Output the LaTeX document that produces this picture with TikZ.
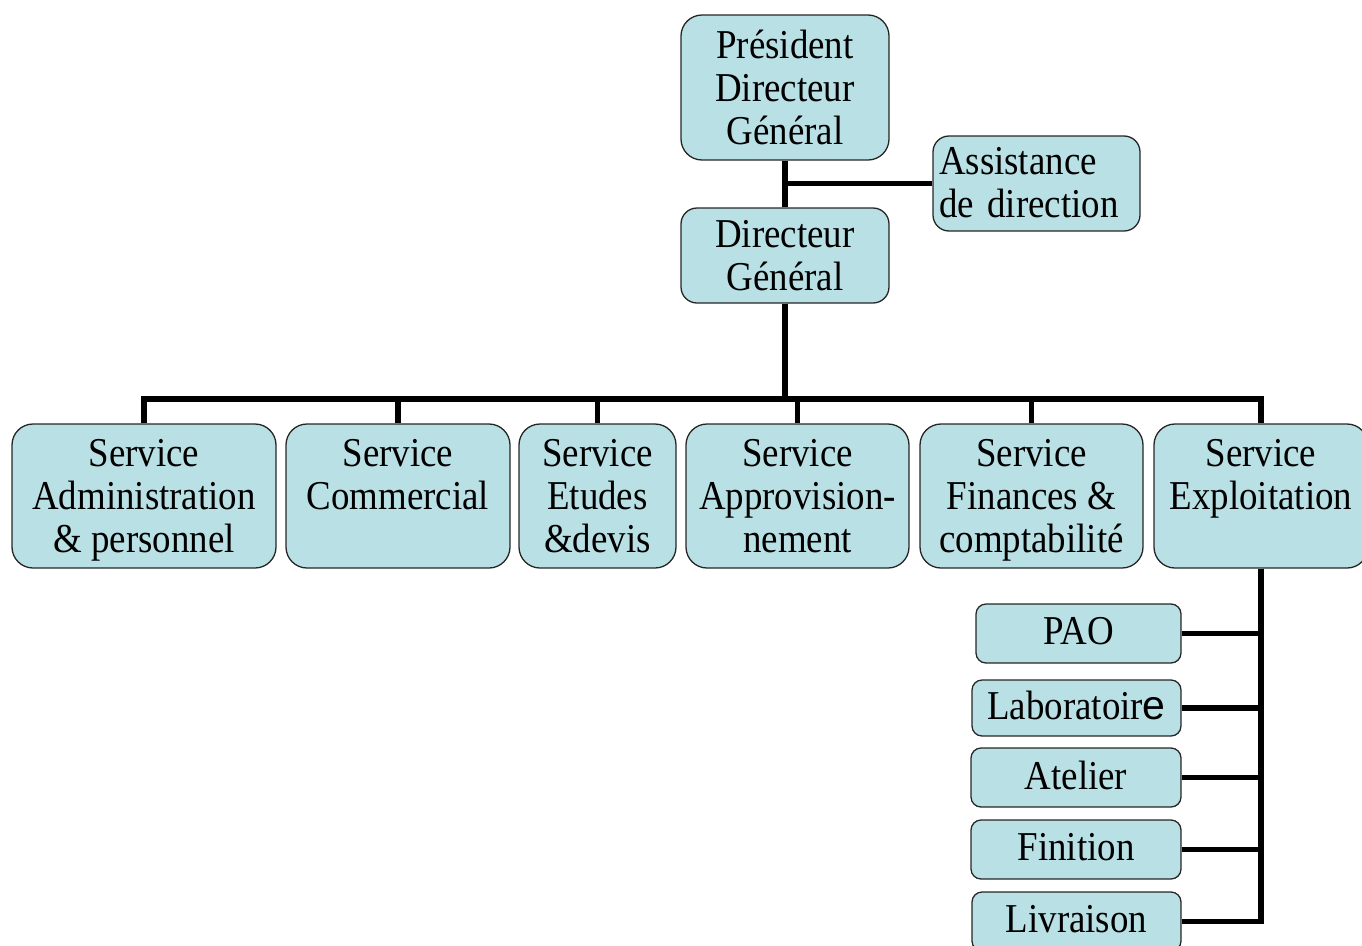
\documentclass[tikz,border=0pt]{standalone}
\usepackage{fontspec}
\setmainfont{Liberation Serif}[FakeStretch=0.9]
\newfontfamily\helv{Liberation Sans}

\definecolor{boxfill}{RGB}{185,224,228}

\begin{document}
\begin{tikzpicture}[x=1pt,y=-1pt,
  box/.style={draw=black!85,line width=1.3pt,fill=boxfill,rounded corners=16pt,
    align=center,inner sep=0pt,font=\fontsize{41}{43}\selectfont,text depth=0pt},
  service/.style={box,rounded corners=21pt,minimum height=144},
  unit/.style={box,rounded corners=10pt,minimum height=59,text depth=5pt},
  link/.style={line width=5.5pt}]
  \useasboundingbox (0,0) rectangle (1362,945);

  \coordinate (bus) at (0,399);

  % direction
  \node[box,rounded corners=21pt,minimum width=208,minimum height=145] (pdg) at (785,87.5) {Président\\Directeur\\Général};
  \node[box,minimum width=208,minimum height=95] (dg) at (785,255.5) {Directeur\\Général};
  \node[box,text depth={},text height=34pt,align=left,text width=195,minimum width=207,minimum height=95] (ast) at (1036.5,183.5) {Assistance\\de direction\vphantom{p}};

  % services
  \node[service,minimum width=264] (adm) at (144,496) {Service\\Administration\\\& personnel};
  \node[service,minimum width=224] (com) at (398,496) {Service\\Commercial\\\mbox{}};
  \node[service,minimum width=157] (etu) at (597.5,496) {Service\\Etudes\\\&devis};
  \node[service,minimum width=223] (app) at (797.5,496) {Service\\Approvision-\\nement};
  \node[service,minimum width=223] (fin) at (1031.5,496) {Service\\Finances \&\\comptabilité};
  \node[service,minimum width=214] (exp) at (1261,496) {Service\\Exploitation\\\mbox{}};

  % exploitation units
  \node[unit,minimum width=205] (pao) at (1078.5,633.5) {PAO};
  \node[unit,minimum width=209,minimum height=56] (lab) at (1076.5,708) {Laboratoir{\helv e}};
  \node[unit,minimum width=210] (ate) at (1076,777.5) {Atelier};
  \node[unit,minimum width=210] (fini) at (1076,849.5) {Finition};
  \node[unit,minimum width=209] (liv) at (1076.5,921.5) {Livraison};

  \draw[link] (pdg) -- (dg);
  \draw[link] (ast.west) -- (ast.west -| pdg.south);
  \foreach \s in {adm,com,etu,app,fin,exp}
    \draw[link] (dg.south) -- (dg.south |- bus) -| (\s.north);
  \foreach \u in {pao,lab,ate,fini,liv}
    \draw[link] (exp.south) |- (\u.east);
\end{tikzpicture}
\end{document}
